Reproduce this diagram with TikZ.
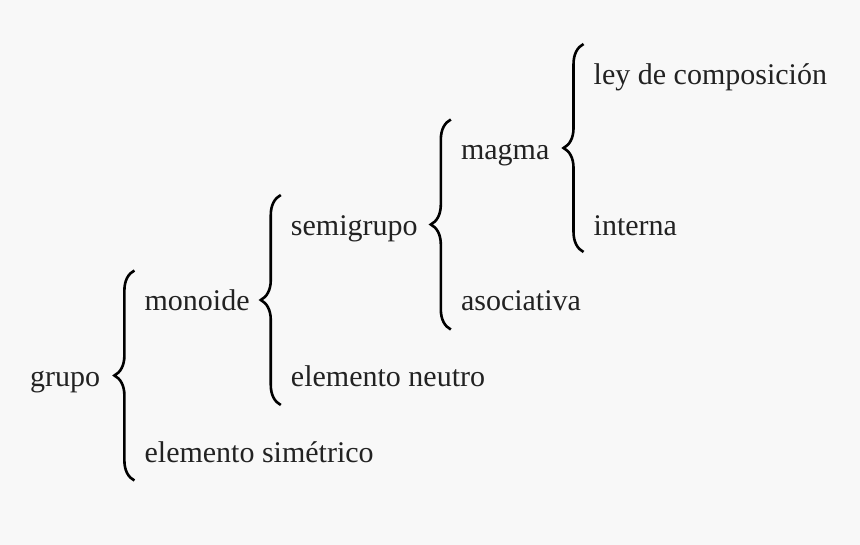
\documentclass[tikz,border=0pt]{standalone}
\usepackage{fontspec}
\setmainfont{Liberation Serif}
\usepackage{xcolor}
\usetikzlibrary{decorations.pathreplacing, positioning, calc}
\definecolor{bgcol}{RGB}{248,248,248}
\definecolor{txtcol}{RGB}{34,34,34}

\begin{document}
\begin{tikzpicture}[
    x=1pt, y=-1pt,
    lbl/.style={inner sep=0pt, font=\fontsize{30}{36}\selectfont, text=txtcol, text height=21pt, text depth=0pt, anchor=west},
    curly/.style={decorate, decoration={brace, amplitude=20pt}, line width=2.6pt, black}
]
\fill[bgcol] (0,0) rectangle (860,545);
\useasboundingbox (0,0) rectangle (860,545);

% grupo
\node[lbl] (grupo) at (30,376) {grupo};
\node[lbl] (monoide)   at ([xshift=44pt,yshift=75.5pt]grupo.east) {monoide};
\node[lbl] (simetrico) at ([yshift=-151pt]monoide.west) {elemento simétrico};
\draw[curly] ([xshift=-10pt,yshift=-29pt]simetrico.west) -- ([xshift=-10pt,yshift=30pt]monoide.west);

% monoide
\node[lbl] (semigrupo) at ([xshift=41pt,yshift=75.5pt]monoide.east) {semigrupo};
\node[lbl] (neutro)    at ([yshift=-151pt]semigrupo.west) {elemento neutro};
\draw[curly] ([xshift=-10pt,yshift=-29pt]neutro.west) -- ([xshift=-10pt,yshift=30pt]semigrupo.west);

% semigrupo
\node[lbl] (magma)      at ([xshift=43pt,yshift=75.5pt]semigrupo.east) {magma};
\node[lbl] (asociativa) at ([yshift=-151pt]magma.west) {asociativa};
\draw[curly] ([xshift=-10pt,yshift=-29pt]asociativa.west) -- ([xshift=-10pt,yshift=30pt]magma.west);

% magma
\node[lbl] (ley)     at ([xshift=44pt,yshift=75.5pt]magma.east) {ley de composición};
\node[lbl] (interna) at ([yshift=-151pt]ley.west) {interna};
\draw[curly] ([xshift=-10pt,yshift=-27pt]interna.west) -- ([xshift=-10pt,yshift=30pt]ley.west);

\end{tikzpicture}
\end{document}
